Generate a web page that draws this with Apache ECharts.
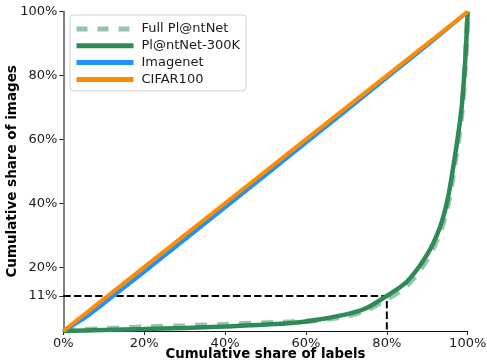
<!DOCTYPE html>
<html><head><meta charset="utf-8">
<script src="https://cdn.jsdelivr.net/npm/echarts@6/dist/echarts.min.js"></script>
<style>html,body{margin:0;padding:0;background:#fff}#c{width:487px;height:361px}</style>
</head><body><div id="c"></div>
<script>
// Cumulative share of labels (%)
const xShare = [0, 5, 10, 20, 30, 40, 50, 60, 70, 75, 80, 85, 90, 93, 95, 97, 98.5, 99.3, 99.7, 100];
// Cumulative share of images (%)
const fullPlantnet = [0, 0.4, 0.7, 1.2, 1.6, 2.0, 2.5, 3.0, 4.7, 6.6, 10.0, 14.3, 22.5, 30.5, 39, 54, 68, 81.5, 91, 100];
const plantnet300k = [0, 0.15, 0.3, 0.6, 0.95, 1.4, 2.0, 3.0, 5.2, 7.2, 11.0, 15.5, 24, 32, 41, 56, 70, 83, 92, 100];
const imagenetX = [0, 5, 10, 20, 30, 40, 50, 60, 70, 80, 90, 100];
const imagenetY = [0, 3.8, 8.6, 18.5, 28.6, 38.7, 48.8, 59, 69.1, 79.3, 89.5, 100];
const cifarX = [0, 20, 40, 60, 80, 100];
const cifarY = [0, 20, 40, 60, 80, 100];
const refX = 80, refY = 11;
const xTicks = [0, 20, 40, 60, 80, 100];
const yTicks = [11, 20, 40, 60, 80, 100];

const zip = (a, b) => a.map((v, i) => [v, b[i]]);
const font = 'DejaVu Sans';
const FULL_C = 'rgba(46,139,87,0.5)', K300_C = '#2e8b57', IMG_C = '#1e90ff', CIF_C = '#ff8c00';

const chart = echarts.init(document.getElementById('c'), null, {renderer: 'canvas'});
chart.setOption({
  animation: false,
  backgroundColor: '#fff',
  textStyle: {fontFamily: font},
  grid: {left: 63.3, right: 19.3, top: 11.7, bottom: 30, containLabel: false, outerBoundsMode: 'none'},
  legend: {
    left: 70, top: 15, orient: 'vertical',
    data: [
      {name: 'Full Pl@ntNet', lineStyle: {color: FULL_C, width: 5, type: [11, 10]}},
      {name: 'Pl@ntNet-300K', lineStyle: {color: K300_C, width: 5}},
      {name: 'Imagenet', lineStyle: {color: IMG_C, width: 5}},
      {name: 'CIFAR100', lineStyle: {color: CIF_C, width: 5}}
    ],
    itemWidth: 57, itemHeight: 10, itemGap: 3.8,
    padding: [7.5, 6, 5, 4],
    borderColor: '#d0d0d0', borderWidth: 1, borderRadius: 3,
    backgroundColor: 'rgba(255,255,255,0.8)',
    itemStyle: {opacity: 0},
    textStyle: {fontFamily: font, fontSize: 13, color: '#1a1a1a', padding: [0, 0, 0, 3]}
  },
  xAxis: [{
    type: 'value', min: 0, max: 100, interval: 20,
    name: 'Cumulative share of labels', nameLocation: 'middle', nameGap: 17, nameMoveOverlap: false,
    nameTextStyle: {fontFamily: font, fontSize: 13.3, fontWeight: 'bold', color: '#000', verticalAlign: 'top'},
    axisLine: {show: true, onZero: false, lineStyle: {color: '#222', width: 1.2}},
    axisTick: {show: true, length: 4, lineStyle: {color: '#222'}},
    axisLabel: {formatter: '{value}%', fontFamily: font, fontSize: 13, color: '#1a1a1a', margin: 6,
      customValues: xTicks},
    splitLine: {show: false}
  }, {
    type: 'value', min: 0, max: 100, position: 'top',
    axisLine: {show: true, lineStyle: {color: '#111', width: 1}},
    axisTick: {show: false}, axisLabel: {show: false}, splitLine: {show: false}
  }],
  yAxis: [{
    type: 'value', min: 0, max: 100,
    name: 'Cumulative share of images', nameLocation: 'middle', nameGap: 44, nameMoveOverlap: false,
    nameTextStyle: {fontFamily: font, fontSize: 13.5, fontWeight: 'bold', color: '#000'},
    axisLine: {show: true, onZero: false, lineStyle: {color: '#808080', width: 2}},
    axisTick: {show: true, length: 4, lineStyle: {color: '#222'}, customValues: yTicks},
    axisLabel: {formatter: '{value}%', fontFamily: font, fontSize: 13, color: '#1a1a1a', margin: 6,
      customValues: yTicks},
    splitLine: {show: false}
  }, {
    type: 'value', min: 0, max: 100, position: 'right',
    axisLine: {show: true, lineStyle: {color: '#808080', width: 2}},
    axisTick: {show: false}, axisLabel: {show: false}, splitLine: {show: false}
  }],
  series: [
    {
      name: 'ref', type: 'line', data: [[0, refY], [refX, refY], [refX, 0]],
      symbol: 'none', silent: true, z: 1,
      lineStyle: {color: '#000', width: 2, type: [7.4, 3.2]}
    },
    {
      name: 'Full Pl@ntNet', type: 'line', data: zip(xShare, fullPlantnet), smooth: 0.3,
      symbol: 'none', z: 2,
      itemStyle: {color: FULL_C},
      lineStyle: {color: FULL_C, width: 5.5, type: [12, 10]}
    },
    {
      name: 'Pl@ntNet-300K', type: 'line', data: zip(xShare, plantnet300k), smooth: 0.3,
      symbol: 'none', z: 3,
      itemStyle: {color: K300_C},
      lineStyle: {color: K300_C, width: 4.5}
    },
    {
      name: 'Imagenet', type: 'line', data: zip(imagenetX, imagenetY),
      symbol: 'none', z: 4,
      itemStyle: {color: IMG_C},
      lineStyle: {color: IMG_C, width: 4}
    },
    {
      name: 'CIFAR100', type: 'line', data: zip(cifarX, cifarY),
      symbol: 'none', z: 5,
      itemStyle: {color: CIF_C},
      lineStyle: {color: CIF_C, width: 4}
    }
  ]
});
</script></body></html>
